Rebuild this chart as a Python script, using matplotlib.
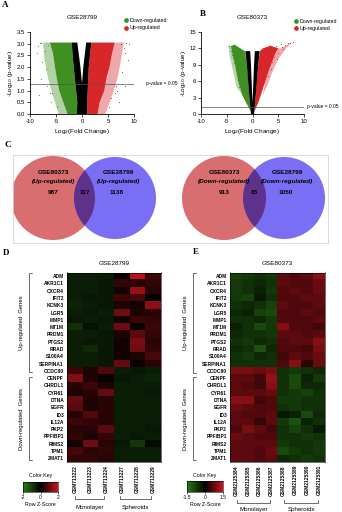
import numpy as np
import matplotlib
matplotlib.use("Agg")
import matplotlib.pyplot as plt
from matplotlib.colors import LinearSegmentedColormap
from matplotlib.lines import Line2D
from matplotlib.patches import Circle, Polygon

plt.rcParams["font.family"] = ["Liberation Sans", "DejaVu Sans"]

W, H = 342, 512
GREEN = "#3f8f22"
RED = "#d9262b"

# ---- A: GSE28799 volcano (log2FC, -log10 p), outlines of the dense clouds ----
A_black_x = [-1.0, 1.0, 1.0, 1.3, 1.8, 0.8, 0.25, 0.0, -0.3, -0.9, -2.0, -1.6, -0.9]
A_black_y = [0.0, 0.0, 0.5, 2.0, 3.05, 3.05, 2.0, 1.3, 2.0, 3.05, 3.05, 2.0, 0.5]
A_down_x = [-1.0, -2.8, -3.6, -4.4, -4.9, -5.2, -5.6, -6.2, -2.0, -1.6, -0.9]
A_down_y = [0.0, 0.0, 0.5, 1.0, 1.6, 2.0, 2.6, 3.05, 3.05, 2.0, 0.5]
A_down_halo_x = [-2.8, -4.5, -5.5, -6.5, -7.2, -7.5, -6.2, -5.6, -5.2, -4.4, -3.6]
A_down_halo_y = [0.0, 0.0, 0.7, 1.5, 2.3, 3.05, 3.05, 2.6, 2.0, 1.0, 0.5]
A_up_x = [1.0, 3.0, 3.4, 4.3, 4.8, 5.3, 5.8, 6.3, 1.8, 1.3, 1.0]
A_up_y = [0.0, 0.0, 0.5, 1.0, 1.6, 2.0, 2.6, 3.05, 3.05, 2.0, 0.5]
A_up_halo_x = [3.0, 4.5, 5.8, 6.8, 7.5, 8.0, 6.3, 5.8, 5.3, 4.3, 3.4]
A_up_halo_y = [0.0, 0.0, 0.8, 1.5, 2.3, 3.05, 3.05, 2.6, 2.0, 1.0, 0.5]
A_down_pts_x = [-7.9, -8.5, -8.6, -7.7, -6.2, -7.8, -6.8, -5.8, -8.2, -6.0, -4.8, -6.5, -7.2, -5.9, -8.0, -6.9]
A_down_pts_y = [3.05, 2.9, 2.6, 2.2, 0.9, 1.5, 1.2, 0.9, 0.8, 0.5, 0.3, 2.95, 2.7, 3.0, 3.05, 1.9]
A_up_pts_x = [8.4, 7.5, 8.5, 8.2, 8.8, 6.5, 7.6, 6.2, 8.2, 6.8, 5.5, 7.2, 8.0, 6.4, 5.2, 9.0]
A_up_pts_y = [3.05, 3.0, 3.05, 2.6, 2.3, 1.2, 1.8, 1.3, 1.2, 1.0, 0.7, 0.5, 2.8, 0.9, 0.3, 3.0]

# ---- B: GSE80373 volcano ----
B_black_x = [-0.3, 0.3, 0.6, 1.1, 1.4, 0.45, 0.3, 0.0, -0.3, -0.45, -1.4, -1.1, -0.6]
B_black_y = [0.0, 0.0, 3.0, 9.0, 11.5, 11.5, 9.0, 2.0, 9.0, 11.5, 11.5, 9.0, 3.0]
B_down_x = [-0.35, -1.2, -2.0, -2.8, -3.4, -3.9, -4.2, -3.5, -1.5, -1.1, -0.8, -0.6, -0.35]
B_down_y = [0.5, 2.0, 3.5, 6.0, 9.0, 11.0, 12.4, 12.7, 11.5, 9.0, 6.0, 3.0, 1.0]
B_down_halo_x = [-2.0, -3.1, -3.8, -4.5, -4.7, -4.2, -3.9, -3.4, -2.8]
B_down_halo_y = [3.5, 5.0, 8.0, 11.0, 12.6, 12.4, 11.0, 9.0, 6.0]
B_up_x = [0.35, 1.1, 1.8, 2.5, 3.2, 3.8, 4.4, 5.0, 3.5, 2.0, 1.45, 1.1, 0.8, 0.6, 0.35]
B_up_y = [0.5, 2.0, 4.0, 6.0, 8.0, 9.5, 11.0, 12.0, 12.5, 12.0, 11.5, 9.0, 6.0, 3.0, 1.0]
B_up_halo_x = [2.0, 3.0, 4.0, 5.0, 6.5, 7.8, 5.5, 5.0, 4.4, 3.8, 3.2, 2.5]
B_up_halo_y = [3.5, 5.5, 8.0, 10.0, 12.0, 13.2, 12.0, 12.0, 11.0, 9.5, 8.0, 6.0]
B_down_pts_x = [-4.5, -4.2, -3.8, -3.0, -3.3, -4.0, -2.7, -3.6]
B_down_pts_y = [12.5, 11.5, 10.2, 7.5, 8.3, 10.8, 5.0, 9.3]
B_up_pts_x = [4.5, 5.5, 6.3, 7.2, 7.8, 5.0, 6.0, 3.8, 4.2, 3.0, 5.8, 6.8, 4.8, 3.5]
B_up_pts_y = [12.5, 12.8, 12.7, 12.9, 13.2, 11.2, 11.8, 9.5, 10.5, 7.0, 12.2, 13.0, 10.0, 8.2]

# ---- C: Venn counts ----
venn_up = [987, 117, 1138]
venn_down = [913, 83, 1050]

# ---- D / E: heatmaps (row z-scores) ----
GENES = ["ADM", "AKR1C1", "CXCR4", "IFIT2", "KCNK3", "LGR5", "MMP1", "MT1M", "PRDM1",
         "PTGS2", "RRAD", "S100A4", "SERPINA1", "CCDC80", "CENPF", "CHRDL1", "CYR61",
         "DTNA", "EGFR", "ID3", "IL12A", "PKP2", "PPFIBP1", "RIMS2", "TPM1", "ZMAT1"]
D_samples = ["GSM713222", "GSM713223", "GSM713224", "GSM713227", "GSM713228", "GSM713229"]
E_samples = ["GSM2125384", "GSM2125385", "GSM2125386", "GSM2125387",
             "GSM2125388", "GSM2125389", "GSM2125390", "GSM2125391"]
D_values = [
    [-0.5, -0.5, -0.5, 0.1, 1.8, 0.6],
    [-0.5, -0.5, -0.4, 0.5, 0.4, 0.5],
    [-0.5, -0.5, -0.4, 0.2, 1.5, 0.4],
    [-0.5, -0.4, -0.4, 0.6, 0.7, 0.1],
    [-0.6, -0.5, -0.4, 0.3, 0.2, 1.4],
    [-0.5, -0.4, -0.5, 1.1, 0.3, 0.4],
    [-0.4, -0.5, -0.4, 0.2, 0.6, 0.5],
    [-0.8, -0.3, -0.5, 1.1, 0.1, 0.6],
    [-0.5, -0.5, -0.4, 0.3, 0.9, 0.5],
    [-0.5, -0.4, -0.4, 0.2, 1.2, 0.4],
    [-0.5, -0.7, -0.4, 0.2, 1.1, 0.5],
    [-0.5, -0.5, -0.4, 0.2, 0.3, 0.7],
    [-0.5, -0.5, -0.4, 1.0, 0.1, 0.4],
    [0.6, 0.3, 0.8, -0.5, -0.4, -0.5],
    [1.3, 0.3, 0.1, -0.4, -0.5, -0.6],
    [0.4, 0.6, 0.3, -0.5, -0.5, -0.5],
    [0.3, 0.4, 1.0, -0.5, -0.5, -0.4],
    [1.0, 0.3, 0.4, -0.5, -0.5, -0.5],
    [0.9, 0.3, 0.4, -0.5, -0.5, -0.5],
    [0.4, 0.8, 0.4, -0.5, -0.5, -0.5],
    [0.6, 0.5, 0.4, -0.5, -0.5, -0.5],
    [0.4, 0.4, 0.9, -0.5, -0.5, -0.4],
    [0.5, 0.3, 0.5, -0.5, -0.4, -0.5],
    [0.2, 1.1, 0.4, -0.4, -0.9, -0.2],
    [0.7, 0.4, 0.5, -0.5, -0.5, -0.5],
    [0.5, 0.5, 0.4, -0.5, -0.5, -0.5],
]
E_values = [
    [-0.8, -0.7, -0.6, -0.7, 0.7, 0.6, 0.7, 1.0],
    [-0.7, -0.6, -0.5, -0.6, 0.7, 0.6, 0.6, 0.8],
    [-0.7, -0.6, -0.4, -0.7, 0.6, 0.7, 0.6, 0.8],
    [-0.7, -0.8, -0.3, -0.6, 0.6, 0.6, 0.7, 0.7],
    [-0.6, -0.5, -0.6, -0.8, 0.7, 0.6, 0.6, 0.7],
    [-0.5, -0.4, -0.8, -0.9, 0.6, 0.6, 0.7, 0.6],
    [-0.6, -0.6, -0.5, -0.7, 0.6, 0.6, 0.6, 0.7],
    [-0.4, -0.6, -0.9, -0.7, 1.0, 0.6, 0.6, 0.5],
    [-0.5, -0.6, -0.6, -0.7, 0.7, 0.7, 0.6, 0.7],
    [-0.6, -0.7, -0.5, -0.6, 0.6, 0.7, 0.7, 1.0],
    [-0.5, -0.6, -1.0, -0.5, 0.6, 0.6, 0.5, 0.9],
    [-0.6, -0.7, -0.5, -0.6, 0.5, 0.7, 0.6, 0.8],
    [-0.6, -0.6, -0.6, -0.6, 0.6, 1.0, 0.3, 0.8],
    [0.9, 0.9, 0.8, 0.9, -0.6, -0.7, -0.6, -0.5],
    [0.7, 0.7, 0.5, 1.1, -0.6, -0.9, -0.4, -0.7],
    [0.7, 0.6, 0.5, 1.0, -0.6, -0.9, -0.5, -0.5],
    [0.7, 0.7, 0.7, 0.8, -0.6, -0.7, -0.8, -0.6],
    [1.0, 1.0, 0.5, 0.6, -0.7, -0.7, -0.6, -0.6],
    [0.8, 0.7, 0.6, 0.6, -0.6, -0.7, -0.6, -0.6],
    [0.7, 0.6, 0.6, 0.7, -0.3, -0.4, -0.9, -0.5],
    [0.7, 0.7, 0.4, 0.7, -0.7, -1.0, -0.4, -0.6],
    [0.6, 0.9, 0.7, 0.5, -0.6, -0.8, -0.6, -0.3],
    [0.8, 0.7, 0.6, 0.6, -0.6, -0.6, -0.7, -0.6],
    [0.7, 0.7, 0.7, 0.7, -0.7, -0.6, -0.6, -0.7],
    [0.7, 0.7, 0.6, 0.8, -0.9, -0.7, -0.6, -0.7],
    [0.7, 0.7, 0.6, 0.7, -0.5, -0.6, -0.7, -0.6],
]

CMAP = LinearSegmentedColormap.from_list("gkr", ["#2a7a16", "#000000", "#c8161f"])


def rect(x0, y0, x1, y1):
    # pixel box (top-left origin) -> figure fraction
    return [x0 / W, 1 - y1 / H, (x1 - x0) / W, (y1 - y0) / H]


fig = plt.figure(figsize=(W / 100, H / 100), dpi=100)
ov = fig.add_axes([0, 0, 1, 1])
ov.set_xlim(0, W)
ov.set_ylim(H, 0)
ov.axis("off")


def volcano(box, title, ymax, yticks, yfmt, shapes, down_pts, up_pts, leg_xy, ptxt_x):
    ax = fig.add_axes(rect(*box))
    ax.set_xlim(-10, 10)
    ax.set_ylim(0, ymax)
    for (xs, ys), col, alpha in shapes:
        ax.add_patch(Polygon(np.column_stack([xs, ys]), closed=True, fc=col, ec="none",
                             alpha=alpha))
    ax.scatter(down_pts[0], down_pts[1], s=0.6, c=GREEN, lw=0)
    ax.scatter(up_pts[0], up_pts[1], s=0.6, c=RED, lw=0)
    ax.axhline(1.3, color="#555555", lw=0.5)
    ax.text(ptxt_x, 1.3, "p-value = 0.05", fontsize=3.5, va="center", clip_on=False)
    ax.set_xticks([-10, -5, 0, 5, 10])
    ax.set_xticklabels(["-10", "-5", "0", "5", "10"])
    ax.set_yticks(yticks)
    ax.set_yticklabels([yfmt % v for v in yticks])
    ax.tick_params(labelsize=4.3, length=2, width=0.5, pad=1.5)
    for s in ("top", "right"):
        ax.spines[s].set_visible(False)
    for s in ("left", "bottom"):
        ax.spines[s].set_linewidth(0.6)
    ax.set_xlabel("Log$_2$(Fold Change)", fontsize=4.6, labelpad=2)
    ax.set_ylabel("-Log$_{10}$ (p-value)", fontsize=4.6, labelpad=1)
    ax.text(0.5, 1.18, title, transform=ax.transAxes, ha="center", va="center", fontsize=4.6)
    handles = [Line2D([], [], marker="o", ls="", color=GREEN, ms=2.4, label="Down-regulated"),
               Line2D([], [], marker="o", ls="", color=RED, ms=2.4, label="Up-regulated")]
    ax.legend(handles=handles, loc="upper left", bbox_to_anchor=leg_xy, frameon=False,
              fontsize=3.8, handletextpad=0.1, labelspacing=0.45, borderaxespad=0,
              handlelength=1.0, borderpad=0)
    return ax


volcano((30, 32, 134, 114), "GSE28799", 3.5, np.arange(0, 3.51, 0.5), "%.1f",
        [((A_down_halo_x, A_down_halo_y), GREEN, 0.4), ((A_up_halo_x, A_up_halo_y), RED, 0.4),
         ((A_down_x, A_down_y), GREEN, 1), ((A_up_x, A_up_y), RED, 1),
         ((A_black_x, A_black_y), "black", 1)],
        (A_down_pts_x, A_down_pts_y), (A_up_pts_x, A_up_pts_y), (0.9, 1.17), 12.3)
volcano((201, 32, 304, 114), "GSE80373", 15, [0, 3, 6, 9, 12, 15], "%d",
        [((B_down_halo_x, B_down_halo_y), GREEN, 0.4), ((B_up_halo_x, B_up_halo_y), RED, 0.4),
         ((B_down_x, B_down_y), GREEN, 1), ((B_up_x, B_up_y), RED, 1),
         ((B_black_x, B_black_y), "black", 1)],
        (B_down_pts_x, B_down_pts_y), (B_up_pts_x, B_up_pts_y), (0.9, 1.16), 10.6)

# ---- C: Venn diagrams ----
vx = fig.add_axes(rect(13, 155, 328, 243))
vx.set_xlim(13, 328)
vx.set_ylim(243, 155)
vx.set_xticks([])
vx.set_yticks([])
for s in vx.spines.values():
    s.set_edgecolor("#d4d4d4")
    s.set_linewidth(0.6)


def venn(cl, cr, counts, tag):
    left = Circle(cl, 42, fc="#d86e70", ec="none")
    right = Circle(cr, 41, fc="#7a6ef5", ec="none")
    vx.add_patch(left)
    vx.add_patch(right)
    lens = Circle(cr, 41, fc="#5e318b", ec="none")
    vx.add_patch(lens)
    lens.set_clip_path(left)
    ix = (cl[0] + 42 + cr[0] - 41) / 2
    for x, name in ((cl[0], "GSE80373"), (cr[0] + 3, "GSE28799")):
        vx.text(x, 173, name, ha="center", va="center", fontsize=4.6, fontweight="bold")
        vx.text(x, 181, tag, ha="center", va="center", fontsize=4.6, fontweight="bold",
                style="italic")
    for x, n in zip((cl[0], ix, cr[0] + 2), counts):
        vx.text(x, 193, str(n), ha="center", va="center", fontsize=4.6, fontweight="bold")


venn((53, 198), (115, 198), venn_up, "(Up-regulated)")
venn((224, 198), (284, 198), venn_down, "(Down-regulated)")


# ---- D / E: heatmaps ----
def heatmap(box, title, data, samples, vmax):
    ax = fig.add_axes(rect(*box))
    ax.imshow(np.array(data), cmap=CMAP, vmin=-vmax, vmax=vmax, aspect="auto",
              interpolation="nearest")
    ax.set_yticks(range(len(GENES)))
    ax.set_yticklabels(GENES, fontsize=3.5, fontweight="bold")
    ax.set_xticks(range(len(samples)))
    ax.set_xticklabels(samples, rotation=90, fontsize=3.5, fontweight="bold")
    ax.tick_params(length=0, pad=2.2)
    for s in ax.spines.values():
        s.set_linewidth(0.4)
    ax.text(0.5, 1.05, title, transform=ax.transAxes, ha="center", va="center", fontsize=4.6)
    return ax


def color_key(box, vmax, ticks):
    kx = fig.add_axes(rect(*box))
    kx.imshow(np.linspace(-vmax, vmax, 100)[None, :], cmap=CMAP, aspect="auto",
              extent=(-vmax, vmax, 0, 1))
    kx.set_yticks([])
    kx.set_xticks(ticks)
    kx.set_xticklabels(["%g" % t for t in ticks])
    kx.tick_params(labelsize=3.6, length=1.5, width=0.4, pad=1)
    for s in kx.spines.values():
        s.set_linewidth(0.4)
    cx = (box[0] + box[2]) / 2
    ov.text(cx, box[1] - 6, "Color Key", ha="center", va="center", fontsize=3.8)
    ov.text(cx, 505, "Row Z-Score", ha="center", va="center", fontsize=3.8)


heatmap((67, 272.5, 161, 462), "GSE28799", D_values, D_samples, 2)
heatmap((230, 272.5, 325, 462), "GSE80373", E_values, E_samples, 1.5)
color_key((23, 482, 58, 492), 2, [-2, 0, 2])
color_key((187, 481, 223, 492), 1.5, [-1.5, 0, 1.5])

# group brackets and labels (pixel coords)
for bx, tx, (y0, y1), label in ((29, 21, (273, 372), "Up-regulated  Genes"),
                                (29, 21, (377, 460), "Down-regulated  Genes"),
                                (193, 185, (273, 373), "Up-regulated  Genes"),
                                (193, 185, (377, 460), "Down-regulated  Genes")):
    ov.plot([bx + 3, bx, bx, bx + 3], [y0, y0, y1, y1], color="#333333", lw=0.5)
    ov.text(tx, (y0 + y1) / 2, label, rotation=90, ha="center", va="center", fontsize=4.2)

for (x0, x1), by, ty, label in (((75, 104), 499, 508, "Monolayer"),
                                ((120, 151), 499, 508, "Spheroids"),
                                ((237, 270), 503, 509.5, "Monolayer"),
                                ((284, 318), 503, 509.5, "Spheroids")):
    ov.plot([x0, x0, x1, x1], [by - 3, by, by, by - 3], color="#333333", lw=0.5)
    ov.text((x0 + x1) / 2, ty, label, ha="center", va="center", fontsize=4.4)

# panel letters
for x, y, letter in ((5, 5, "A"), (203, 14, "B"), (8, 145, "C"), (6, 253, "D"), (196, 252, "E")):
    ov.text(x, y, letter, ha="center", va="center", fontsize=6.5, fontweight="bold",
            family="Liberation Serif")

fig.savefig("out.png", dpi=100)
